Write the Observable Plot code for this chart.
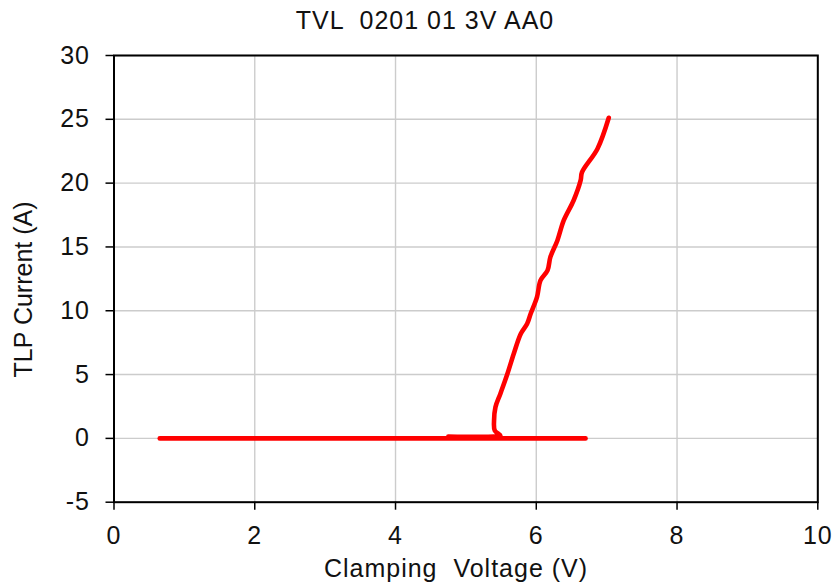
<!DOCTYPE html>
<html>
<head>
<meta charset="utf-8">
<script src="https://cdn.jsdelivr.net/npm/d3@7"></script>
<script src="https://cdn.jsdelivr.net/npm/@observablehq/plot@0.6"></script>
<style>
  html, body { margin: 0; padding: 0; background: #fff; }
  #title {
    box-sizing: border-box; width: 836px; height: 40px; padding-left: 14px;
    font-family: "Liberation Sans", Arial, sans-serif; font-size: 25px;
    line-height: 40px; letter-spacing: 1px; text-align: center; color: #111;
    white-space: pre;
  }
  svg text { letter-spacing: 1px; }
</style>
</head>
<body>
<div id="title">TVL  0201 01 3V AA0</div>
<div id="chart"></div>
<script>
// Axis ticks
const xTicks = [0, 2, 4, 6, 8, 10];
const yTicks = [-5, 0, 5, 10, 15, 20, 25, 30];

// Leakage sweep (near-zero current)
const leakV = [0.65, 2.0, 4.0, 5.0, 6.0, 6.70];
const leakI = [0, 0, 0, 0, 0, 0];

// TLP I-V curve
const tlpV = [4.75, 5.40, 5.49, 5.41, 5.40, 5.42, 5.49, 5.59, 5.68, 5.78, 5.87, 5.92, 6.01, 6.06, 6.16, 6.20, 6.30, 6.39, 6.53, 6.63, 6.65, 6.87, 7.03];
const tlpI = [0.15, 0.15, 0.22, 0.62, 1.40, 2.45, 3.50, 5.06, 6.63, 8.20, 8.98, 9.76, 11.07, 12.38, 13.16, 14.20, 15.51, 17.08, 18.64, 20.21, 20.86, 22.70, 25.12];

const leak = leakV.map((v, i) => ({v, i: leakI[i]}));
const tlp = tlpV.map((v, i) => ({v, i: tlpI[i]}));

const font = "'Liberation Sans', Arial, sans-serif";
const grid = {stroke: "#cccccc", strokeOpacity: 1, strokeWidth: 1.4};
const lineStyle = {x: "v", y: "i", stroke: "#ff0000", strokeWidth: 4.6, strokeLinecap: "round", strokeLinejoin: "round", curve: "catmull-rom"};

const chart = Plot.plot({
  width: 836,
  height: 544,
  marginLeft: 113.5,
  marginRight: 18.7,
  marginTop: 15,
  marginBottom: 82.3,
  style: {fontFamily: font, fontSize: "25px", color: "#111", background: "#fff", overflow: "visible"},
  x: {domain: [0, 10]},
  y: {domain: [-5, 30]},
  marks: [
    Plot.gridX(xTicks, grid),
    Plot.gridY(yTicks, grid),
    Plot.line(leak, lineStyle),
    Plot.line(tlp, lineStyle),
    Plot.frame({stroke: "#000", strokeWidth: 2}),
    Plot.axisX(xTicks, {tickSize: 8, tickPadding: 16, strokeWidth: 1.5, stroke: "#000", fill: "#111", fontSize: 25, label: null, tickFormat: d => String(d)}),
    Plot.axisY(yTicks, {tickSize: 8, tickPadding: 16, strokeWidth: 1.5, stroke: "#000", fill: "#111", fontSize: 25, label: null, tickFormat: d => String(d)}),
    Plot.text(["Clamping  Voltage (V)"], {frameAnchor: "bottom", text: d => d, fontSize: 25, lineAnchor: "middle", textAnchor: "middle", dx: -9.9, dy: 67, fill: "#111"}),
    Plot.text(["TLP Current (A)"], {frameAnchor: "left", text: d => d, fontSize: 25, lineAnchor: "middle", textAnchor: "middle", rotate: -90, dx: -90.5, dy: 10.6, fill: "#111"})
  ]
});
chart.querySelectorAll("text").forEach(t => {
  if (t.textContent === "TLP Current (A)") t.style.letterSpacing = "0px";
});
document.getElementById("chart").appendChild(chart);
</script>
</body>
</html>
